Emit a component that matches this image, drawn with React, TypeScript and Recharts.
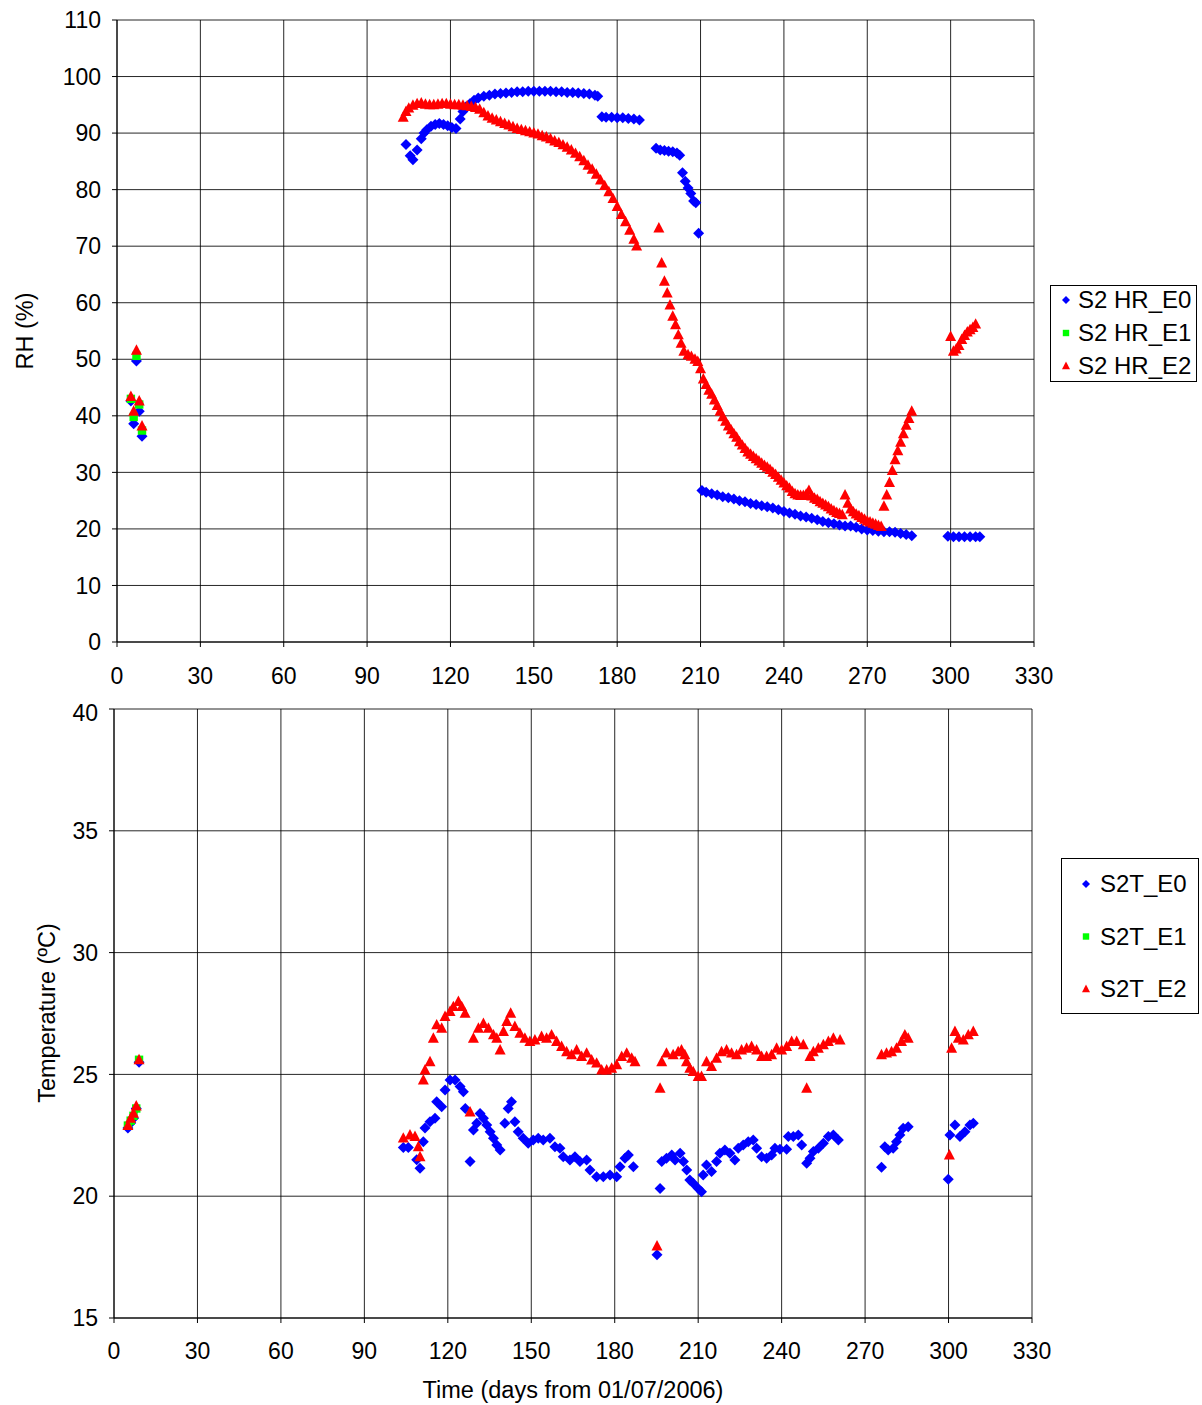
import React from 'react';
import { ScatterChart, Scatter, XAxis, YAxis, CartesianGrid } from 'recharts';

const FONT = '"Liberation Sans", Arial, sans-serif';

const dayTicks = [0, 30, 60, 90, 120, 150, 180, 210, 240, 270, 300, 330];
const rhTicks = [0, 10, 20, 30, 40, 50, 60, 70, 80, 90, 100, 110];
const tTicks = [15, 20, 25, 30, 35, 40];

const rhNames = ['S2 HR_E0', 'S2 HR_E1', 'S2 HR_E2'];
const tNames = ['S2T_E0', 'S2T_E1', 'S2T_E2'];

const rhE0: [number, number][] = [
  [5, 42.6], [6, 38.6], [7, 49.7], [8, 40.8], [9, 36.4],
  [104, 88.0], [105.5, 86.0], [106.5, 85.3], [108, 87.0], [109.5, 89.0], [110.5, 90.0], [111.5, 90.6], [113, 91.2],
  [114.5, 91.5], [116, 91.7], [117.5, 91.5], [119, 91.3], [120.5, 91.0], [122, 90.8], [123.5, 92.5], [124.5, 93.8],
  [125.5, 94.6], [127, 95.2], [128.5, 95.8], [130, 96.2], [132, 96.5], [134, 96.7], [136, 96.9], [138, 97.0],
  [140, 97.1], [142, 97.2], [144, 97.3], [146, 97.3], [148, 97.4], [150, 97.4], [152, 97.4], [154, 97.4],
  [156, 97.4], [158, 97.3], [160, 97.3], [162, 97.2], [164, 97.2], [166, 97.1], [168, 97.0], [170, 96.9],
  [172, 96.7], [173, 96.5],
  [174.5, 92.9], [176, 92.8], [178, 92.8], [180, 92.7], [182, 92.7], [184, 92.6], [186, 92.5], [188, 92.3],
  [194, 87.3], [195.5, 87.0], [197, 86.9], [198.5, 86.8], [200, 86.7], [201.5, 86.5], [202.5, 86.1],
  [203.5, 83.0], [204.5, 81.5], [205.5, 80.3], [206.5, 79.3], [207.5, 78.0], [208.3, 77.7], [209.3, 72.3],
  [210.5, 26.8], [212, 26.5], [214, 26.2], [216, 26.0], [218, 25.7], [220, 25.5], [222, 25.3], [224, 25.0],
  [226, 24.8], [228, 24.5], [230, 24.3], [232, 24.1], [234, 23.9], [236, 23.7], [238, 23.4], [240, 23.1],
  [242, 22.8], [244, 22.6], [246, 22.3], [248, 22.1], [250, 21.9], [252, 21.6], [254, 21.3], [256, 21.1],
  [258, 20.9], [260, 20.7], [262, 20.5], [264, 20.5], [266, 20.3], [268, 20.0], [270, 19.8], [272, 19.7],
  [274, 19.6], [276, 19.5], [278, 19.5], [280, 19.4], [282, 19.2], [284, 19.0], [286, 18.8],
  [299, 18.7], [301, 18.6], [303, 18.6], [305, 18.6], [307, 18.6], [309, 18.6], [310.5, 18.6],
];

const rhE1: [number, number][] = [
  [5, 43.0], [6, 39.8], [7, 50.6], [8, 42.0], [9, 37.4],
];

const rhE2: [number, number][] = [
  [5, 43.4], [6, 40.8], [7, 51.6], [8, 42.6], [9, 38.2],
  [103, 92.8], [104, 93.8], [105, 94.4], [106.5, 94.9], [108, 95.2], [109.5, 95.3], [111, 95.1], [112.5, 95.0],
  [114, 95.0], [115.5, 95.1], [117, 95.2], [118.5, 95.2], [120, 95.1], [121.5, 95.0], [123, 95.0], [124.5, 94.9],
  [126, 94.8], [127.5, 94.7], [129, 94.5], [130.5, 94.2], [132, 93.6], [133.5, 93.0], [135, 92.6], [136.5, 92.3],
  [138, 92.0], [139.5, 91.7], [141, 91.4], [142.5, 91.1], [144, 90.8], [145.5, 90.6], [147, 90.4], [148.5, 90.2],
  [150, 90.0], [151.5, 89.8], [153, 89.5], [154.5, 89.3], [156, 89.0], [157.5, 88.6], [159, 88.3], [160.5, 87.9],
  [162, 87.5], [163.5, 87.0], [165, 86.4], [166.5, 85.8], [168, 85.1], [169.5, 84.3], [171, 83.6], [172.5, 82.7],
  [174, 81.7], [175.5, 80.7], [177, 79.6], [178.5, 78.4], [180, 77.0], [181.5, 75.6], [183, 74.3], [184.5, 72.8],
  [186, 71.2], [187, 70.0],
  [195, 73.2], [196, 67.0], [197, 63.8], [198, 61.7], [199, 59.6], [200, 57.6], [201, 56.1], [202, 54.3],
  [203, 52.8], [204, 51.4], [205.5, 50.8], [206.7, 50.5], [208, 50.0], [209, 49.6], [210, 48.3], [211, 46.5],
  [212, 45.5], [213, 44.5], [214, 43.8], [215, 42.8], [216, 41.8], [217, 40.8], [218, 39.8], [219, 39.0],
  [220, 38.2], [221, 37.5], [222, 36.8], [223, 36.2], [224, 35.4], [225, 34.8], [226, 34.2], [227, 33.6],
  [228, 33.2], [229, 32.8], [230, 32.4], [231, 32.0], [232, 31.6], [233, 31.2], [234, 30.9], [235, 30.5],
  [236, 30.0], [237, 29.6], [238, 29.1], [239, 28.6], [240, 28.1], [241, 27.6], [242, 27.2], [243, 26.6],
  [244, 26.2], [245, 26.0], [246, 25.9], [247, 25.9], [248, 26.1], [249, 26.8], [250, 25.8], [251, 25.4],
  [252, 25.2], [253, 24.8], [254, 24.5], [255, 24.2], [256, 23.9], [257, 23.5], [258, 23.2], [259, 22.9],
  [260, 22.7], [261, 22.5], [262, 26.0], [263, 24.5], [264, 23.5], [265, 23.0], [266, 22.6], [267, 22.3],
  [268, 22.0], [269, 21.7], [270, 21.4], [271, 21.2], [272, 21.0], [273, 20.8], [274, 20.6], [275, 20.4],
  [276, 24.0], [277, 26.0], [278, 28.2], [279, 30.3], [280, 32.2], [281, 33.8], [282, 35.3], [283, 36.8],
  [284, 38.3], [285, 39.5], [286, 40.8],
  [300, 54.0], [301, 51.4], [302, 51.8], [303, 52.4], [304, 53.5], [305, 54.2], [306, 54.8], [307, 55.2],
  [308, 55.6], [309, 56.2],
];

const tE0: [number, number][] = [
  [5, 22.8], [6, 23.0], [7, 23.2], [8, 23.6], [9, 25.5],
  [104, 22.0], [105.8, 22.0], [108.8, 21.5], [110, 21.15], [111.2, 22.24], [111.8, 22.8], [113.6, 23.06],
  [115.4, 23.2], [116, 23.88], [117.8, 23.67], [119, 24.36], [120.8, 24.77], [122.6, 24.77], [124.4, 24.5],
  [125.6, 24.29], [126.3, 23.6], [128, 21.42], [129.2, 22.72], [130.4, 22.99], [131.6, 23.4], [132.8, 23.2],
  [134, 22.92], [135.2, 22.65], [136.4, 22.38], [137.6, 22.1], [138.8, 21.9], [140.5, 22.99], [141.7, 23.6],
  [142.9, 23.88], [144.1, 23.06], [145.3, 22.65], [147.1, 22.38], [148.9, 22.17], [150.7, 22.31], [152.5, 22.38],
  [154.3, 22.31], [156.7, 22.38], [158.5, 22.03], [160.3, 21.97], [161.5, 21.62], [163.9, 21.49], [165.7, 21.62],
  [167.5, 21.42], [169.9, 21.49], [171.1, 21.08], [173.5, 20.8], [175.9, 20.8], [178.3, 20.87], [180.7, 20.8],
  [181.9, 21.21], [183.7, 21.56], [184.9, 21.69], [186.7, 21.21],
  [195.2, 17.6], [196.3, 20.32], [196.9, 21.42], [198.6, 21.56], [200.5, 21.69], [201.7, 21.49], [203.5, 21.76],
  [204.7, 21.42], [205.9, 21.08], [207, 20.66], [208.2, 20.53], [210, 20.32], [211.2, 20.18], [211.8, 20.87],
  [213, 21.28], [214.8, 21.01], [216.6, 21.42], [217.8, 21.76], [219.6, 21.9], [221.4, 21.76], [223.2, 21.49],
  [224.4, 21.97], [226.2, 22.1], [228, 22.24], [229.8, 22.31], [231, 21.97], [232.8, 21.62], [234.6, 21.56],
  [236.4, 21.69], [237.6, 21.97], [239.4, 21.93], [241.8, 21.93], [242.4, 22.45], [244.2, 22.45], [246, 22.51],
  [247.2, 22.1], [249, 21.35], [250.2, 21.56], [251.4, 21.83], [253.2, 21.97], [255, 22.17], [256.8, 22.45],
  [258.6, 22.51], [260.4, 22.31],
  [275.9, 21.19], [277.1, 22.03], [278.3, 21.9], [280.1, 21.97], [281.3, 22.24], [282.5, 22.51], [283.7, 22.79],
  [285.5, 22.85],
  [299.9, 20.7], [300.5, 22.51], [302.3, 22.92], [304.1, 22.45], [305.9, 22.65], [307.7, 22.92], [308.9, 22.99],
];

const tE1: [number, number][] = [
  [5, 22.9], [6, 23.1], [7, 23.3], [8, 23.6], [9, 25.6],
];

const tE2: [number, number][] = [
  [5, 22.9], [6, 23.2], [7, 23.4], [8, 23.7], [9, 25.6],
  [104, 22.38], [106.4, 22.51], [108.2, 22.45], [109.4, 22.03], [110, 21.62], [111.2, 24.77], [111.8, 25.18],
  [113.6, 25.52], [114.8, 26.48], [116, 27.03], [117.8, 26.89], [119, 27.37], [120.8, 27.58], [122, 27.78],
  [123.8, 27.99], [125, 27.78], [126.2, 27.51], [128, 23.45], [129.2, 26.48], [131, 26.89], [132.8, 27.09],
  [134.6, 26.89], [136.4, 26.62], [137.6, 26.48], [138.8, 26.0], [140, 26.76], [141.2, 27.17], [142.6, 27.51],
  [144.1, 26.96], [145.9, 26.69], [147.7, 26.48], [149.5, 26.35], [151.3, 26.41], [153.7, 26.55], [155.5, 26.48],
  [157.3, 26.62], [159.1, 26.35], [160.9, 26.14], [162.7, 25.93], [164.5, 25.8], [166.3, 26.0], [168.1, 25.73],
  [169.9, 25.87], [171.7, 25.59], [173.5, 25.46], [175.3, 25.18], [177.1, 25.18], [178.9, 25.25], [180.7, 25.39],
  [182.5, 25.73], [184.3, 25.87], [186.1, 25.66], [187.3, 25.52],
  [195.2, 17.95], [196.3, 24.43], [196.9, 25.52], [198.6, 25.87], [201, 25.8], [202.8, 25.93], [204, 26.0],
  [205.2, 25.8], [205.8, 25.52], [207, 25.25], [208.2, 25.11], [210, 24.91], [211.2, 24.91], [213, 25.52],
  [214.8, 25.32], [216.6, 25.66], [218.4, 25.93], [220.2, 26.0], [222, 25.87], [223.8, 25.8], [225.6, 26.0],
  [227.4, 26.07], [229.2, 26.14], [231, 26.0], [232.8, 25.73], [234.6, 25.73], [236.4, 25.8], [238.2, 26.07],
  [240, 26.0], [241.8, 26.14], [243.6, 26.35], [245.4, 26.35], [247.8, 26.21], [249, 24.43], [250.2, 25.73],
  [251.4, 25.93], [253.2, 26.07], [255, 26.21], [256.8, 26.35], [258.6, 26.48], [261, 26.41],
  [275.9, 25.8], [277.7, 25.87], [279.5, 25.93], [281.3, 26.07], [283.1, 26.35], [284.3, 26.62], [285.5, 26.48],
  [300.3, 21.69], [301.1, 26.07], [302.3, 26.76], [303.5, 26.48], [305.3, 26.41], [307.1, 26.62], [308.9, 26.76],
];

const BLUE = '#0000FF';
const GREEN = '#00FF00';
const RED = '#FF0000';

const toPts = (a: [number, number][]) => a.map(([x, y]) => ({ x, y }));

const Diamond = (r: number) => (p: any) => {
  const { cx, cy } = p;
  if (cx == null || cy == null) return <g />;
  return <path d={`M${cx},${cy - r}L${cx + r},${cy}L${cx},${cy + r}L${cx - r},${cy}Z`} fill={BLUE} />;
};
const Square = (r: number) => (p: any) => {
  const { cx, cy } = p;
  if (cx == null || cy == null) return <g />;
  return <rect x={cx - r} y={cy - r} width={2 * r} height={2 * r} fill={GREEN} />;
};
const Triangle = (r: number) => (p: any) => {
  const { cx, cy } = p;
  if (cx == null || cy == null) return <g />;
  return <path d={`M${cx},${cy - r * 1.1}L${cx + r},${cy + r * 0.8}L${cx - r},${cy + r * 0.8}Z`} fill={RED} />;
};

const tickStyle = { fill: '#000', fontSize: 23, fontFamily: FONT };

function LegendBox(props: { left: number; top: number; width: number; height: number; names: string[]; rowGap: number; firstY: number; markerX: number; textX: number; ms: number }) {
  const { left, top, width, height, names, rowGap, firstY, markerX, textX, ms } = props;
  const markers = [
    (x: number, y: number) => <path d={`M${x},${y - ms}L${x + ms},${y}L${x},${y + ms}L${x - ms},${y}Z`} fill={BLUE} />,
    (x: number, y: number) => <rect x={x - ms * 0.8} y={y - ms * 0.8} width={ms * 1.6} height={ms * 1.6} fill={GREEN} />,
    (x: number, y: number) => <path d={`M${x},${y - ms * 1.1}L${x + ms},${y + ms * 0.8}L${x - ms},${y + ms * 0.8}Z`} fill={RED} />,
  ];
  return (
    <div style={{ position: 'absolute', left, top, width, height, border: '1px solid #000', boxSizing: 'border-box', background: '#fff' }}>
      <svg width={width - 2} height={height - 2} style={{ position: 'absolute', left: 0, top: 0 }}>
        {names.map((n, i) => (
          <g key={n}>
            {markers[i](markerX, firstY + i * rowGap)}
            <text x={textX} y={firstY + i * rowGap} dy="0.35em" fontSize={24} fontFamily={FONT} fill="#000">{n}</text>
          </g>
        ))}
      </svg>
    </div>
  );
}

export default function App() {
  return (
    <div style={{ position: 'absolute', left: 0, top: 0, width: 1202, height: 1405, background: '#fff', fontFamily: FONT }}>
      <div style={{ position: 'absolute', left: 0, top: 0 }}>
        <ScatterChart width={1202} height={700} margin={{ top: 20, right: 168, bottom: 0, left: 0 }}>
          <CartesianGrid horizontal={true} vertical={true} stroke="#000" strokeWidth={1} strokeOpacity={0.85} />
          <XAxis type="number" dataKey="x" domain={[0, 330]} ticks={dayTicks} height={58} tickSize={5}
            tickMargin={21} tick={tickStyle} stroke="#000" allowDataOverflow />
          <YAxis type="number" dataKey="y" domain={[0, 110]} ticks={rhTicks} width={117} tickSize={5}
            tickMargin={11} tick={tickStyle} stroke="#000" allowDataOverflow />
          <Scatter name={rhNames[0]} data={toPts(rhE0)} shape={Diamond(5.5)} isAnimationActive={false} />
          <Scatter name={rhNames[1]} data={toPts(rhE1)} shape={Square(4.2)} isAnimationActive={false} />
          <Scatter name={rhNames[2]} data={toPts(rhE2)} shape={Triangle(5.5)} isAnimationActive={false} />
        </ScatterChart>
      </div>
      <div style={{ position: 'absolute', left: 0, top: 700 }}>
        <ScatterChart width={1202} height={705} margin={{ top: 9, right: 170, bottom: 0, left: 0 }}>
          <CartesianGrid horizontal={true} vertical={true} stroke="#000" strokeWidth={1} strokeOpacity={0.85} />
          <XAxis type="number" dataKey="x" domain={[0, 330]} ticks={dayTicks} height={87} tickSize={5}
            tickMargin={20} tick={tickStyle} stroke="#000" allowDataOverflow />
          <YAxis type="number" dataKey="y" domain={[15, 40]} ticks={tTicks} width={114} tickSize={5}
            tickMargin={11} tick={tickStyle} stroke="#000" allowDataOverflow />
          <Scatter name={tNames[0]} data={toPts(tE0)} shape={Diamond(5.5)} isAnimationActive={false} />
          <Scatter name={tNames[1]} data={toPts(tE1)} shape={Square(4.2)} isAnimationActive={false} />
          <Scatter name={tNames[2]} data={toPts(tE2)} shape={Triangle(5.5)} isAnimationActive={false} />
        </ScatterChart>
      </div>
      <div style={{ position: 'absolute', left: 25, top: 331, transform: 'translate(-50%, -50%) rotate(-90deg)', whiteSpace: 'nowrap', fontSize: 23.5, color: '#000' }}>RH (%)</div>
      <div style={{ position: 'absolute', left: 47, top: 1013, transform: 'translate(-50%, -50%) rotate(-90deg)', whiteSpace: 'nowrap', fontSize: 23.5, color: '#000' }}>Temperature (ºC)</div>
      <div style={{ position: 'absolute', left: 573, top: 1390, transform: 'translate(-50%, -50%)', whiteSpace: 'nowrap', fontSize: 23.5, color: '#000' }}>Time (days from 01/07/2006)</div>
      <LegendBox left={1050} top={285} width={147} height={97} names={rhNames} rowGap={33} firstY={14} markerX={15} textX={27} ms={4} />
      <LegendBox left={1061} top={858} width={138} height={156} names={tNames} rowGap={52.5} firstY={25} markerX={24} textX={38} ms={4} />
    </div>
  );
}
